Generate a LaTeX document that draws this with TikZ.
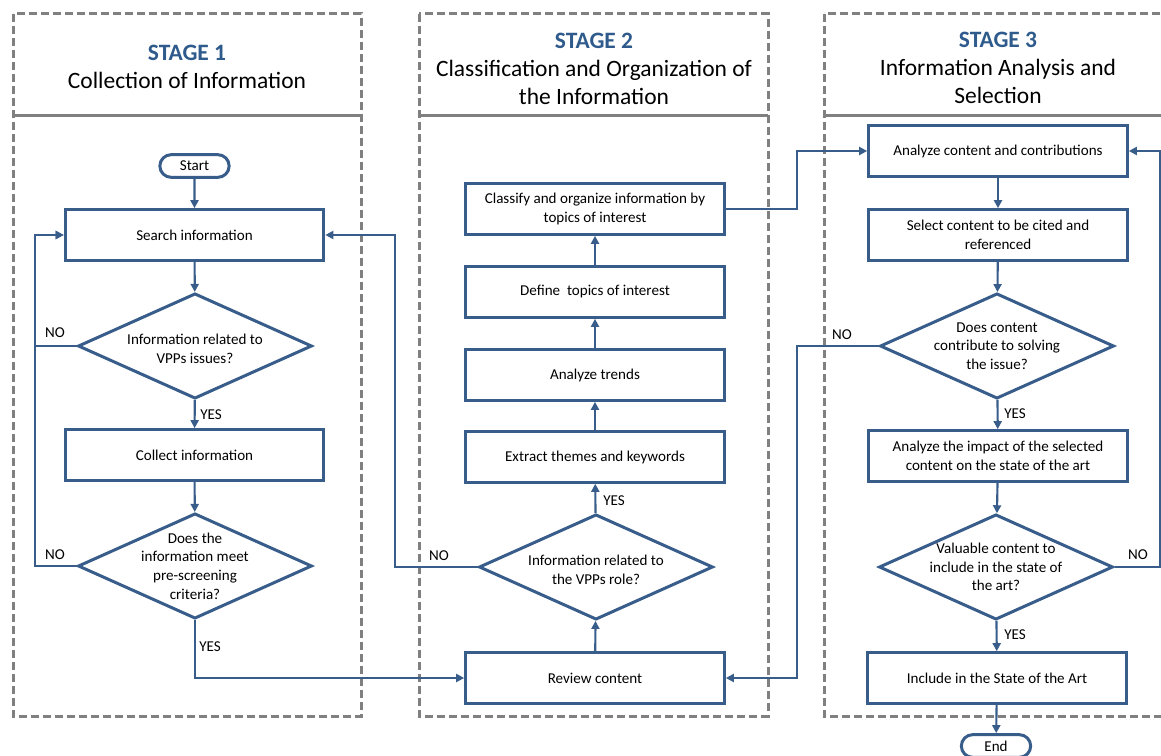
\documentclass[tikz,border=0pt]{standalone}
\usepackage{fontspec}
\setmainfont{Carlito}
\usetikzlibrary{arrows.meta,shapes.geometric,shapes.misc}
\definecolor{lineblue}{HTML}{385D8A}
\definecolor{headblue}{HTML}{2E5A8C}
\definecolor{dashgray}{HTML}{808080}
\begin{document}
\begin{tikzpicture}[x=0.75pt,y=-0.75pt,
  every node/.style={font=\fontsize{11.3}{14}\selectfont},
  proc/.style={draw=lineblue, line width=2.25pt, rectangle, minimum width=194pt, minimum height=38pt, align=center, fill=white, inner sep=2pt},
  dec/.style={draw=lineblue, line width=2.25pt, diamond, minimum width=175.5pt, minimum height=79pt, inner sep=0pt, fill=white},
  term/.style={draw=lineblue, line width=2.25pt, rounded rectangle, minimum width=54pt, minimum height=17pt, inner sep=1pt, fill=white},
  conn/.style={draw=lineblue, line width=1.6pt, -{Triangle[length=6pt,width=6pt]}},
  lbl/.style={inner sep=1pt},
  head/.style={font=\fontsize{17.6}{21}\selectfont, align=center},
  stagebox/.style={draw=dashgray, line width=2.25pt, dash pattern=on 6pt off 3pt},
  divider/.style={draw=dashgray, line width=2.25pt},
  ]
\useasboundingbox (0,0) rectangle (1161,756);
\clip (0,0) rectangle (1161,756);

% stage frames
\draw[stagebox] (13,14) rectangle (361,716);
\draw[divider] (13,116) -- (361,116);
\draw[stagebox] (419,14) rectangle (768,716);
\draw[divider] (419,116) -- (768,116);
\draw[stagebox] (824,14) rectangle (1172,716);
\draw[divider] (824,116) -- (1172,116);

\node[head] (h1) at (187,67) {\textbf{\color{headblue}STAGE 1}\\Collection of Information};
\node[head] (h2) at (594,69) {\textbf{\color{headblue}STAGE 2}\\Classification and Organization of\\the Information};
\node[head] (h3) at (998,68) {\textbf{\color{headblue}STAGE 3}\\Information Analysis and\\Selection};

% helper coordinates
\coordinate (lx) at (35,0);
\coordinate (rx) at (395,0);
\coordinate (mx) at (797,0);
\coordinate (ex) at (1160,0);

% stage 1
\node[term] (start) at (194.5,166) {Start};
\node[proc] (search) at (194.5,235) {Search information};
\node[dec, label={[align=center, yshift=-2pt]center:Information related to\\VPPs issues?}] (d1) at (195,346) {};
\node[proc] (collect) at (194.5,455) {Collect information};
\node[dec, label={[align=center]center:Does the\\information meet\\pre-screening\\criteria?}] (d2) at (195,566) {};

% stage 2
\node[proc] (classify) at (595,209) {Classify and organize information by\\topics of interest};
\node[proc] (define) at (595,292) {Define\ \ topics of interest};
\node[proc] (trends) at (595,375) {Analyze trends};
\node[proc] (extract) at (595,457) {Extract themes and keywords};
\node[dec, label={[align=center, yshift=-2pt]center:Information related to\\the VPPs role?}] (d3) at (596,567) {};
\node[proc] (review) at (595,678) {Review content};

% stage 3
\node[proc] (analyze) at (998,151) {Analyze content and contributions};
\node[proc] (select) at (998,235) {Select content to be cited and\\referenced};
\node[dec, label={[align=center]center:Does content\\contribute to solving\\the issue?}] (d4) at (997,346) {};
\node[proc] (impact) at (998,456) {Analyze the impact of the selected\\content on the state of the art};
\node[dec, label={[align=center]center:Valuable content to\\include in the state of\\the art?}] (d5) at (996,567) {};
\node[proc] (include) at (997,678) {Include in the State of the Art};
\node[term] (end) at (996,746) {End};

% connectors stage 1
\draw[conn] (start) -- (search);
\draw[conn] (search) -- (d1);
\draw[conn] (d1) -- (collect);
\draw[conn] (collect) -- (d2);
\draw[conn] (d1.west) -- (d1.west -| lx) |- (search.west);
\draw[conn] (d2.west) -- (d2.west -| lx) |- (search.west);
\draw[conn] (d2.south) |- (review.west);

% connectors stage 2
\draw[conn] (review) -- (d3);
\draw[conn] (d3) -- (extract);
\draw[conn] (extract) -- (trends);
\draw[conn] (trends) -- (define);
\draw[conn] (define) -- (classify);
\draw[conn] (d3.west) -- (d3.west -| rx) |- (search.east);
\draw[conn] (classify.east) -- (classify.east -| mx) |- (analyze.west);

% connectors stage 3
\draw[conn] (analyze) -- (select);
\draw[conn] (select) -- (d4);
\draw[conn] (d4) -- (impact);
\draw[conn] (impact) -- (d5);
\draw[conn] (d5) -- (include);
\draw[conn] (include) -- (end);
\draw[conn] (d4.west) -- (d4.west -| mx) |- (review.east);
\draw[conn] (d5.east) -- (d5.east -| ex) |- (analyze.east);

% labels
\node[lbl] (no1) at (55,333) {NO};
\node[lbl] (no2) at (55,555) {NO};
\node[lbl] (yes1) at (211,415) {YES};
\node[lbl] (yes2) at (210,647) {YES};
\node[lbl] (no3) at (439,556) {NO};
\node[lbl] (yes3) at (614,501) {YES};
\node[lbl] (no4) at (842,335) {NO};
\node[lbl] (yes4) at (1015,414) {YES};
\node[lbl] (no5) at (1138,555) {NO};
\node[lbl] (yes5) at (1015,635) {YES};
\end{tikzpicture}
\end{document}
